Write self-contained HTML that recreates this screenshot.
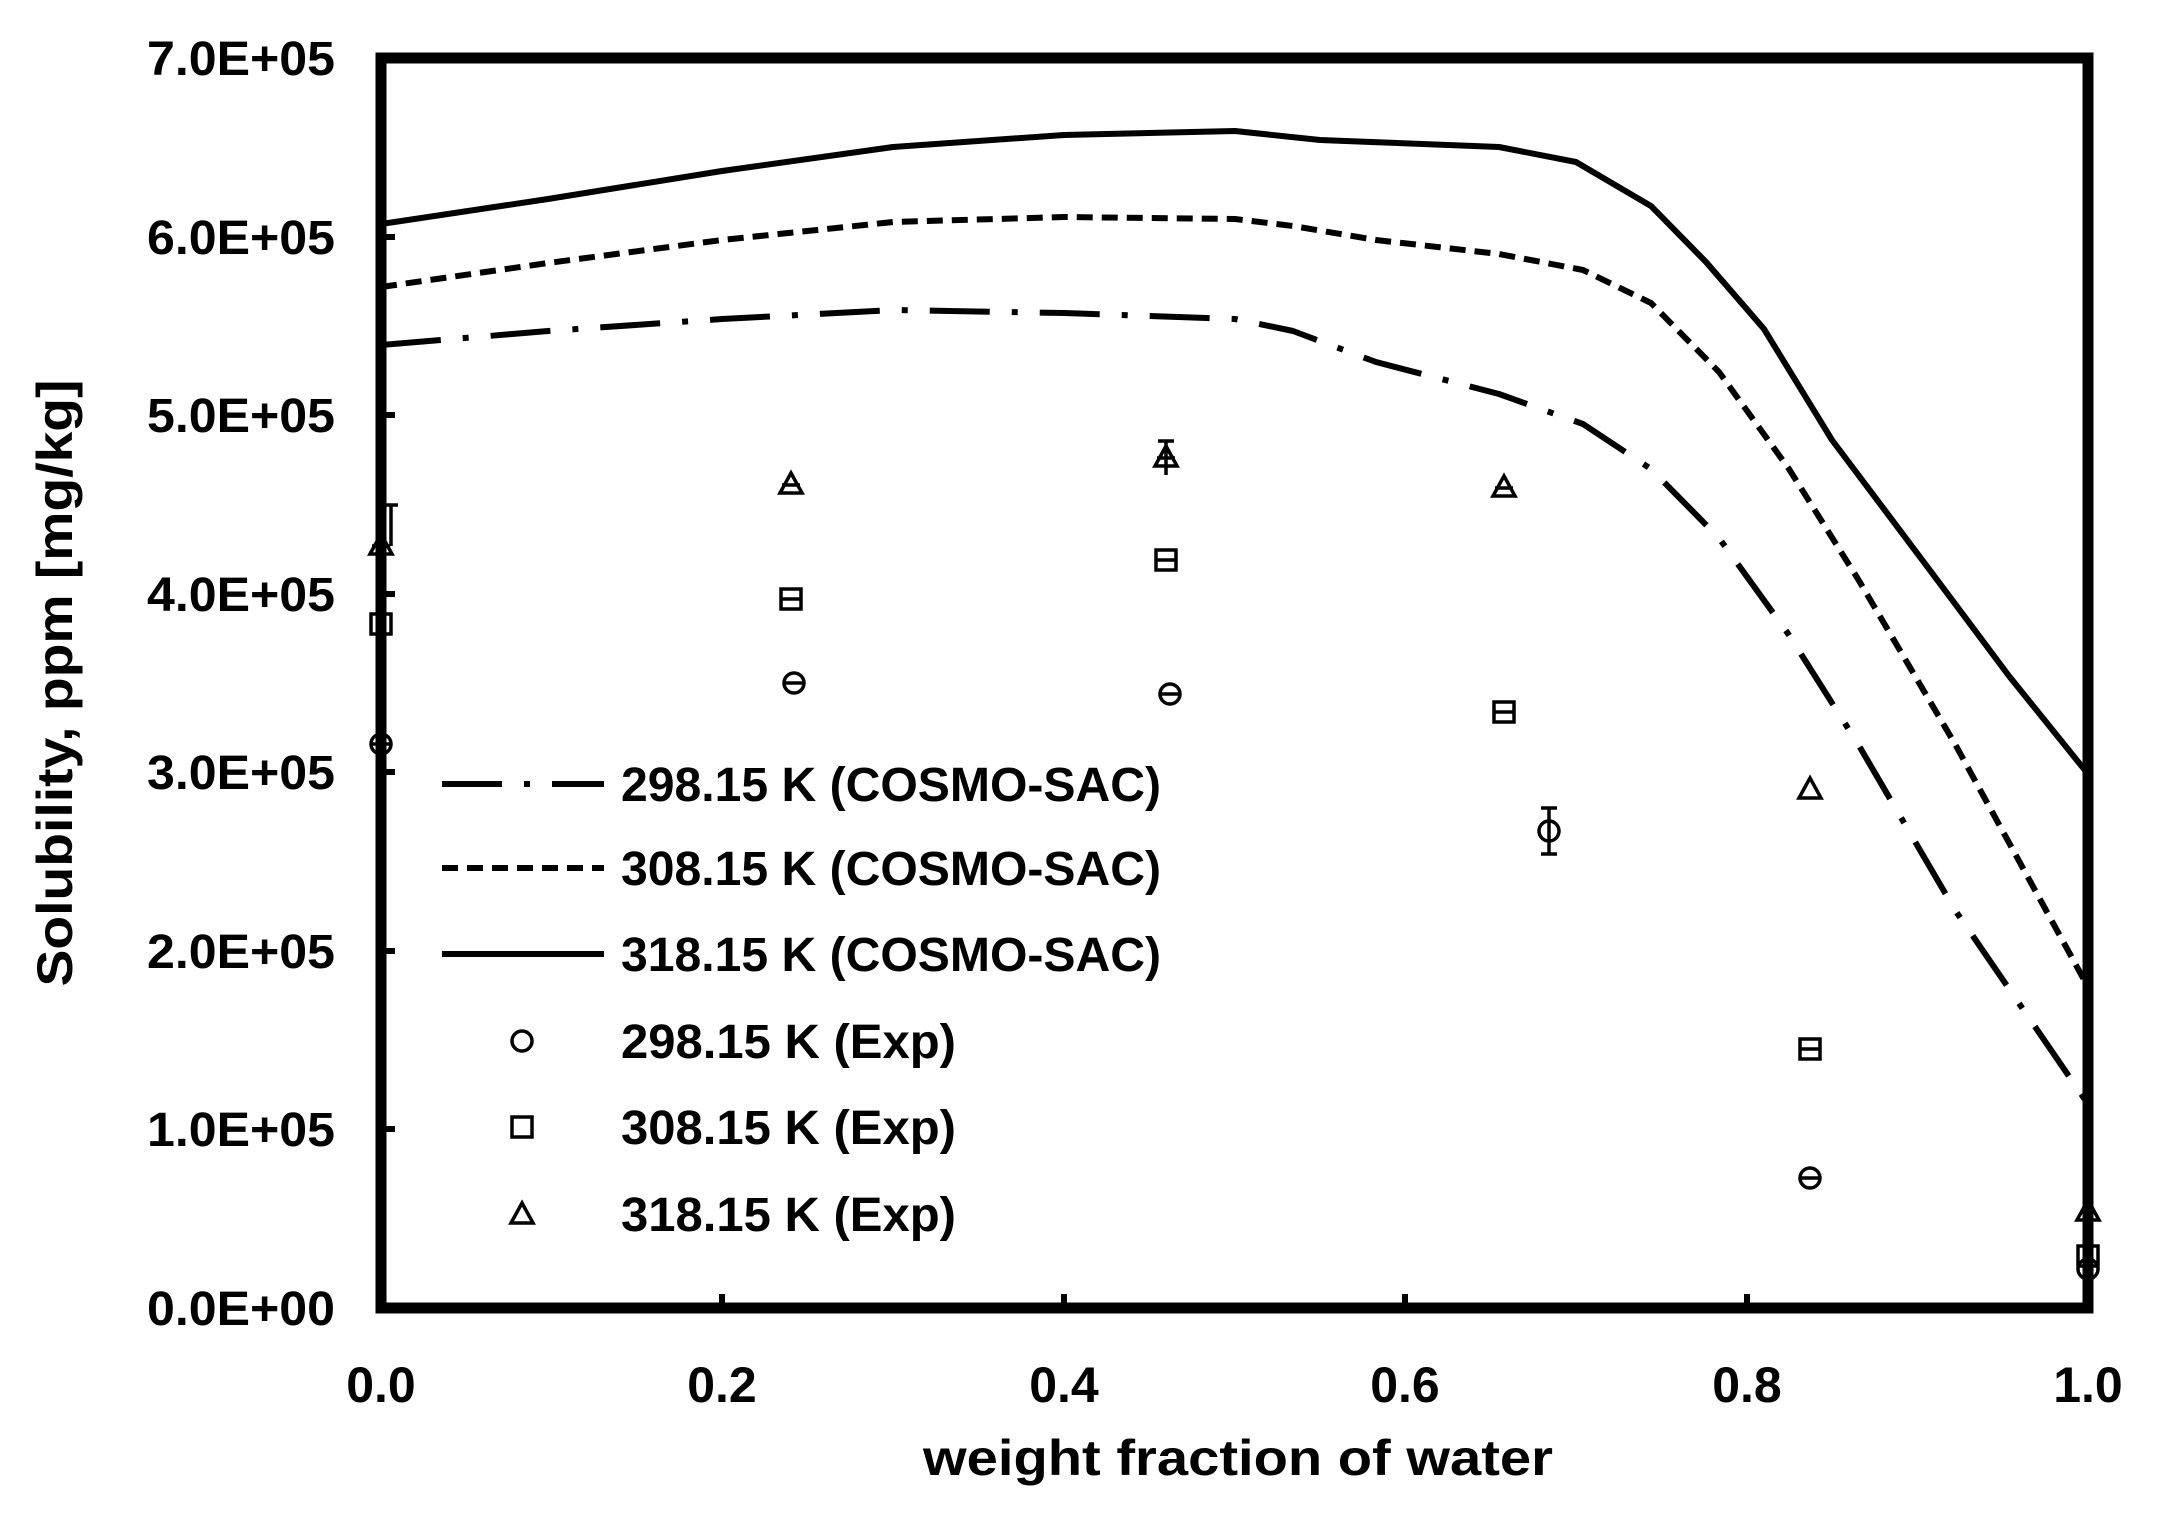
<!DOCTYPE html>
<html><head><meta charset="utf-8"><style>html,body{margin:0;padding:0;background:#fff}svg{display:block}</style></head>
<body>
<svg width="2157" height="1513" viewBox="0 0 2157 1513" xmlns="http://www.w3.org/2000/svg" font-family="'Liberation Sans', sans-serif" font-weight="bold">
<rect width="2157" height="1513" fill="#fff"/>
<g fill="none" stroke="#000" stroke-width="6" stroke-linejoin="round">
<polyline points="381,224 548,199 722,171 893,147 1064,135 1235,131 1320,140 1371,142 1499,147 1576,162 1651,206 1706,262 1764,329 1832,440 1926,565 2009,676 2088,774"/>
<polyline stroke-dasharray="16,9" points="381,287 548,263 722,240 893,222 1064,217 1235,219 1293,226 1376,240 1499,254 1583,270 1651,303 1719,372 1789,469 1858,579 1955,744 2088,987"/>
<polyline stroke-dasharray="60,22,6,22" points="381,345 548,331 722,319 893,310 1064,313 1235,319 1293,331 1376,362 1499,394 1583,424 1651,469 1719,538 1789,635 1858,744 1955,910 2088,1104"/>
</g>
<g fill="none" stroke="#000" stroke-width="3.5">
<circle cx="381" cy="744" r="10"/><circle cx="794" cy="683" r="10"/><circle cx="1170" cy="694" r="10"/><circle cx="1549" cy="831" r="10"/><circle cx="1810" cy="1178" r="10"/><circle cx="2088" cy="1269" r="10"/>
<line x1="372" y1="744" x2="390" y2="744"/><line x1="785" y1="683" x2="803" y2="683"/><line x1="1161" y1="694" x2="1179" y2="694"/><line x1="1801" y1="1178" x2="1819" y2="1178"/>
<line x1="1549" y1="808" x2="1549" y2="854"/><line x1="1541" y1="808" x2="1557" y2="808"/><line x1="1541" y1="854" x2="1557" y2="854"/>
<rect x="371" y="614" width="20" height="20"/><rect x="781" y="589" width="20" height="20"/><rect x="1156" y="550" width="20" height="20"/><rect x="1494" y="702" width="20" height="20"/><rect x="1800" y="1039" width="20" height="20"/><rect x="2078" y="1246" width="20" height="20"/>
<line x1="781" y1="599" x2="801" y2="599"/><line x1="1156" y1="560" x2="1176" y2="560"/><line x1="1494" y1="712" x2="1514" y2="712"/><line x1="1800" y1="1049" x2="1820" y2="1049"/>
<polygon points="381,534 392,554 370,554"/><polygon points="791,473 802,493 780,493"/><polygon points="1166,446 1177,466 1155,466"/><polygon points="1504,476 1515,496 1493,496"/><polygon points="1810,778 1821,798 1799,798"/><polygon points="2088,1200 2099,1220 2077,1220"/>
<line x1="372" y1="546" x2="390" y2="546"/><line x1="782" y1="485" x2="800" y2="485"/><line x1="1157" y1="458" x2="1175" y2="458"/><line x1="1495" y1="488" x2="1513" y2="488"/>
<line x1="391" y1="505" x2="391" y2="546"/><line x1="384" y1="505" x2="398" y2="505"/>
<line x1="1166" y1="441" x2="1166" y2="475"/><line x1="1158" y1="441" x2="1174" y2="441"/>
</g>
<rect x="381" y="58" width="1707" height="1250" fill="none" stroke="#000" stroke-width="11"/>
<g stroke="#000" stroke-width="6">
<line x1="381" y1="1129" x2="395" y2="1129"/><line x1="381" y1="951" x2="395" y2="951"/><line x1="381" y1="772" x2="395" y2="772"/><line x1="381" y1="594" x2="395" y2="594"/><line x1="381" y1="415" x2="395" y2="415"/><line x1="381" y1="237" x2="395" y2="237"/>
<line x1="722" y1="1308" x2="722" y2="1294"/><line x1="1064" y1="1308" x2="1064" y2="1294"/><line x1="1405" y1="1308" x2="1405" y2="1294"/><line x1="1747" y1="1308" x2="1747" y2="1294"/>
</g>
<g font-size="48" fill="#000">
<text x="147" y="1325" textLength="188" lengthAdjust="spacingAndGlyphs">0.0E+00</text>
<text x="147" y="1146" textLength="188" lengthAdjust="spacingAndGlyphs">1.0E+05</text>
<text x="147" y="968" textLength="188" lengthAdjust="spacingAndGlyphs">2.0E+05</text>
<text x="147" y="789" textLength="188" lengthAdjust="spacingAndGlyphs">3.0E+05</text>
<text x="147" y="611" textLength="188" lengthAdjust="spacingAndGlyphs">4.0E+05</text>
<text x="147" y="432" textLength="188" lengthAdjust="spacingAndGlyphs">5.0E+05</text>
<text x="147" y="254" textLength="188" lengthAdjust="spacingAndGlyphs">6.0E+05</text>
<text x="147" y="75" textLength="188" lengthAdjust="spacingAndGlyphs">7.0E+05</text>
</g>
<g font-size="50" text-anchor="middle" fill="#000">
<text x="381" y="1402">0.0</text><text x="722" y="1402">0.2</text><text x="1064" y="1402">0.4</text><text x="1405" y="1402">0.6</text><text x="1747" y="1402">0.8</text><text x="2088" y="1402">1.0</text>
</g>
<text x="1238" y="1475" font-size="50" text-anchor="middle" textLength="630" lengthAdjust="spacingAndGlyphs">weight fraction of water</text>
<text transform="translate(72,683) rotate(-90)" font-size="50" text-anchor="middle" textLength="607" lengthAdjust="spacingAndGlyphs">Solubility, ppm [mg/kg]</text>
<g fill="none" stroke="#000" stroke-width="6">
<line x1="442" y1="784" x2="604" y2="784" stroke-dasharray="60,22,6,22"/>
<line x1="442" y1="868" x2="604" y2="868" stroke-dasharray="16,9"/>
<line x1="442" y1="954" x2="604" y2="954"/>
</g>
<g fill="none" stroke="#000" stroke-width="3.5">
<circle cx="522" cy="1041" r="10"/>
<rect x="512" y="1117" width="20" height="20"/>
<polygon points="522,1203 533,1223 511,1223"/>
</g>
<g font-size="48" fill="#000">
<text x="621" y="801" textLength="540" lengthAdjust="spacingAndGlyphs">298.15 K (COSMO-SAC)</text>
<text x="621" y="885" textLength="540" lengthAdjust="spacingAndGlyphs">308.15 K (COSMO-SAC)</text>
<text x="621" y="971" textLength="540" lengthAdjust="spacingAndGlyphs">318.15 K (COSMO-SAC)</text>
<text x="621" y="1058" textLength="335" lengthAdjust="spacingAndGlyphs">298.15 K (Exp)</text>
<text x="621" y="1144" textLength="335" lengthAdjust="spacingAndGlyphs">308.15 K (Exp)</text>
<text x="621" y="1231" textLength="335" lengthAdjust="spacingAndGlyphs">318.15 K (Exp)</text>
</g>
</svg>
</body></html>
